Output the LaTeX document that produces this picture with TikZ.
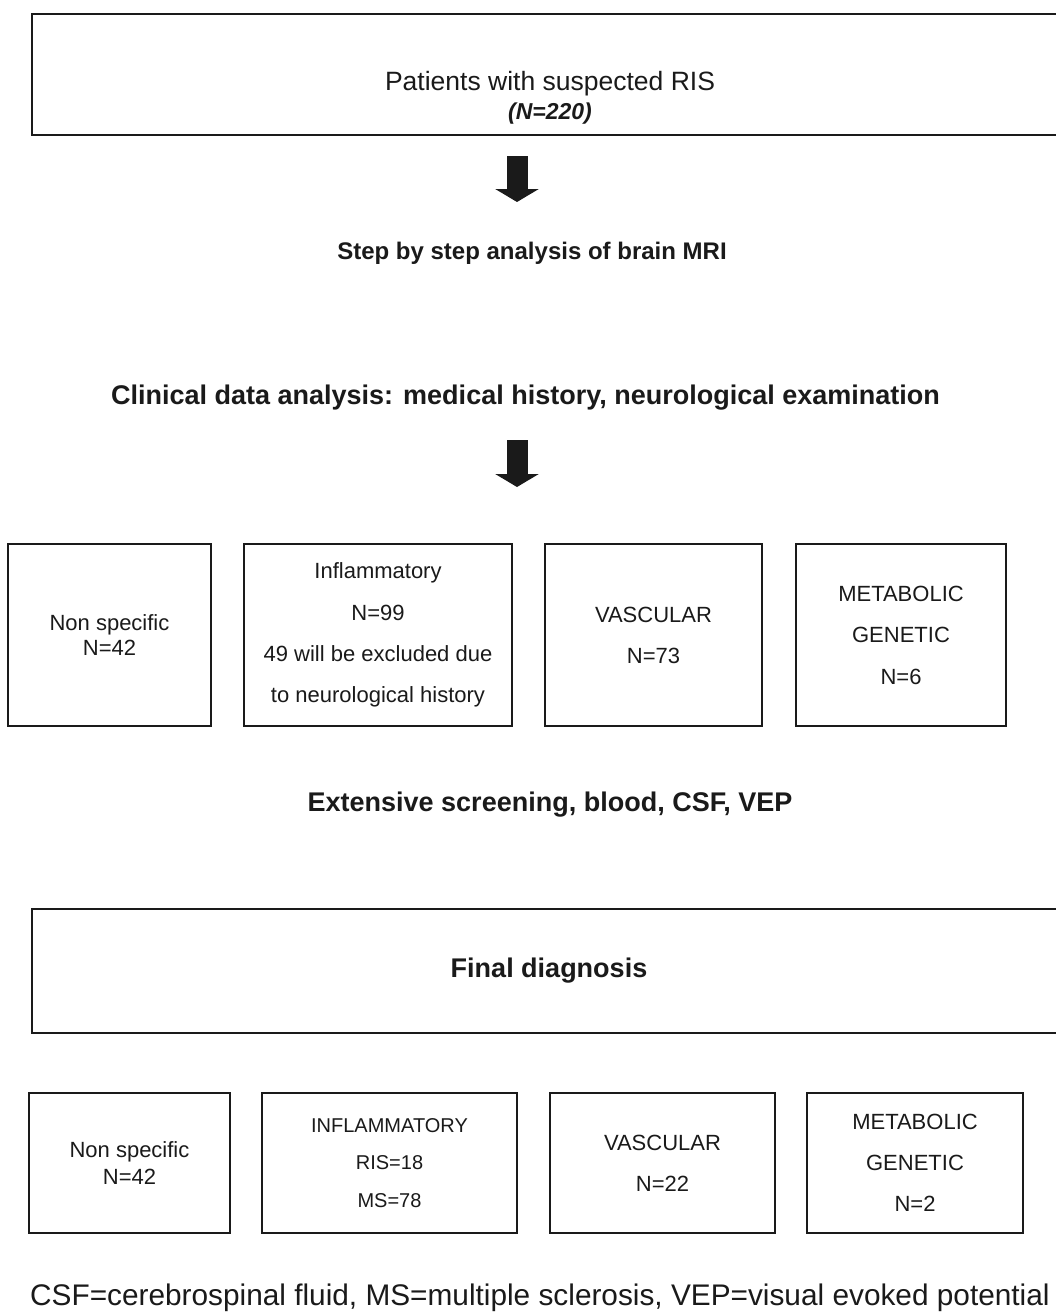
\documentclass[tikz,border=0pt]{standalone}
\usepackage{fontspec}
\setmainfont{Liberation Sans}
\usetikzlibrary{arrows.meta,positioning}
\definecolor{ink}{HTML}{1A1A1A}
\newcommand{\boxfont}[1]{\fontsize{22}{#1}\selectfont}
\newcommand{\headfont}{\fontsize{27}{32}\selectfont\bfseries}
\tikzset{
  box/.style={draw=ink, line width=2pt, inner sep=0pt, outer sep=0pt, align=center, text=ink},
  widebox/.style={draw=ink, line width=2.5pt, inner sep=0pt, outer sep=0pt, minimum width=1034pt, text=ink},
  heading/.style={font=\headfont, inner sep=0pt, text=ink},
  bigarrow/.style={draw=ink, line width=21pt, -{Triangle[width=43pt,length=13pt]}}
}
\begin{document}
\begin{tikzpicture}[x=1pt,y=-1pt]
  \fill[white] (0,0) rectangle (1056,1315);
  \useasboundingbox (0,0) rectangle (1056,1315);

  % Patients box
  \node[widebox, minimum height=121pt] (cohort) at (549,74.5) {};
  \node[inner sep=0pt, text=ink, font=\fontsize{26.5}{30}\selectfont] (patients) at (550,84) {Patients with suspected RIS};
  \node[inner sep=0pt, text=ink, font=\fontsize{23}{26}\selectfont\bfseries\itshape] (count) at (550,114) {(N=220)};

  % First arrow
  \coordinate (arrAtop) at (517,156);
  \coordinate (arrAtip) at (517,202);
  \draw[bigarrow] (arrAtop) -- (arrAtip);

  % Steps of the analysis
  \node[heading, font=\fontsize{24}{28}\selectfont\bfseries] (mri) at (532,253) {Step by step analysis of brain MRI};
  \node[heading] (clinical) at (525.5,398) {Clinical data analysis: medical history, neurological examination};

  % Second arrow
  \coordinate (arrBtop) at (517,440);
  \coordinate (arrBtip) at (517,487);
  \draw[bigarrow] (arrBtop) -- (arrBtip);

  % Groups after the clinical analysis
  \node[box, minimum width=203pt, minimum height=182pt, font=\boxfont{25}] (nonspecA) at (109.5,635) {Non specific\\N=42};
  \node[box, minimum width=268pt, minimum height=182pt, font=\boxfont{41.3}] (inflamA) at (378,635) {Inflammatory\\N=99\\49 will be excluded due\\to neurological history};
  \node[box, minimum width=217pt, minimum height=182pt, font=\boxfont{41}] (vascA) at (653.5,635) {VASCULAR\\N=73};
  \node[box, minimum width=210pt, minimum height=182pt, font=\boxfont{41.5}] (metabA) at (901,635) {METABOLIC\\GENETIC\\N=6};

  \node[heading] (screening) at (550,805) {Extensive screening, blood, CSF, VEP};

  % Final diagnosis
  \node[widebox, minimum height=124pt, font=\headfont] (final) at (549,971) {Final diagnosis};

  \node[box, minimum width=201pt, minimum height=140pt, font=\boxfont{27}] (nonspecB) at (129.5,1163) {Non specific\\N=42};
  \node[box, minimum width=255pt, minimum height=140pt, font=\fontsize{20}{37.5}\selectfont] (inflamB) at (389.5,1163) {INFLAMMATORY\\RIS=18\\MS=78};
  \node[box, minimum width=225pt, minimum height=140pt, font=\boxfont{41}] (vascB) at (662.5,1163) {VASCULAR\\N=22};
  \node[box, minimum width=216pt, minimum height=140pt, font=\boxfont{41}] (metabB) at (915,1163) {METABOLIC\\GENETIC\\N=2};

  % Abbreviations
  \node[anchor=west, inner sep=0pt, text=ink, font=\fontsize{29.8}{34}\selectfont] (abbrev) at (30,1298) {CSF=cerebrospinal fluid, MS=multiple sclerosis, VEP=visual evoked potential};
\end{tikzpicture}
\end{document}
